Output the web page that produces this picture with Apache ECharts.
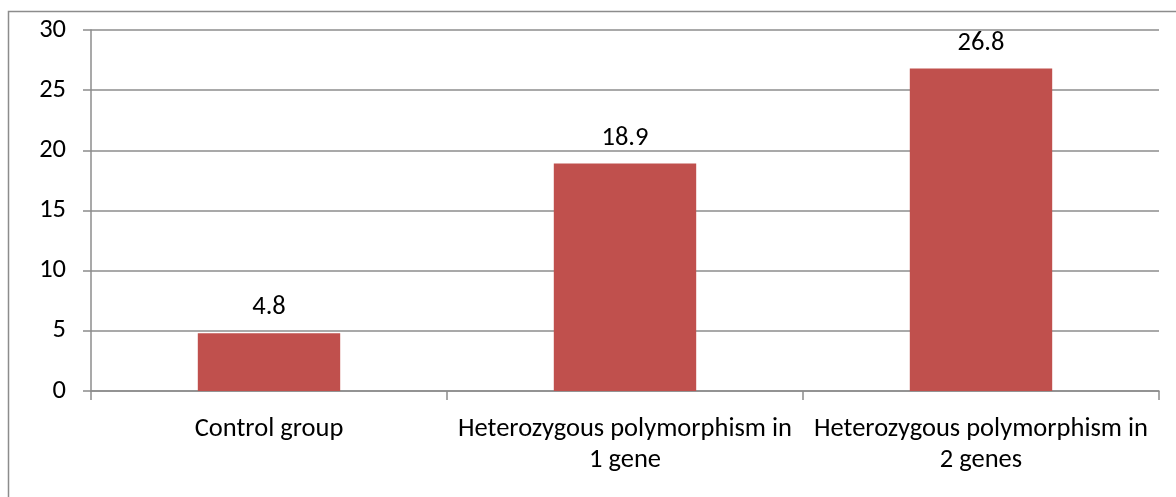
<!DOCTYPE html>
<html>
<head>
<meta charset="utf-8">
<script src="https://cdn.jsdelivr.net/npm/echarts@6/dist/echarts.min.js"></script>
<style>
  html, body { margin: 0; padding: 0; background: #fff; }
  #chart { width: 1176px; height: 497px; }
</style>
</head>
<body>
<div id="chart"></div>
<script>
// 分组名称
const categories = ['Control group', 'Heterozygous polymorphism in\n1 gene', 'Heterozygous polymorphism in\n2 genes']
// 数值
const values = [4.8, 18.9, 26.8]

const gridColor = '#8c8c8c'
const font = 'Carlito, Lato, sans-serif'

var chartDom = document.getElementById('chart')
var myChart = echarts.init(chartDom)

var option = {
  animation: false,
  backgroundColor: '#fff',
  graphic: [{
    type: 'rect',
    shape: { x: 8.5, y: 11.5, width: 1300, height: 600 },
    style: { fill: 'none', stroke: gridColor, lineWidth: 1.5 },
    silent: true
  }],
  grid: { left: 91, right: 17, top: 30, bottom: 106 },
  xAxis: {
    type: 'category',
    data: categories,
    axisLine: { show: true, lineStyle: { color: gridColor, width: 1.5 } },
    axisTick: { show: true, length: 9, lineStyle: { color: gridColor, width: 1.5 } },
    axisLabel: {
      interval: 0,
      color: '#000',
      fontSize: 26.5,
      fontFamily: font,
      lineHeight: 31,
      margin: 23
    }
  },
  yAxis: {
    type: 'value',
    min: 0,
    max: 30,
    interval: 5,
    axisLine: { show: true, lineStyle: { color: gridColor, width: 1.5 } },
    axisTick: { show: true, length: 8, lineStyle: { color: gridColor, width: 1.5 } },
    axisLabel: {
      color: '#000',
      fontSize: 26.5,
      fontFamily: font,
      margin: 25
    },
    splitLine: { show: true, lineStyle: { color: gridColor, width: 1.5 } }
  },
  series: [{
    type: 'bar',
    data: values,
    barWidth: '40%',
    itemStyle: { color: '#C0504D' },
    label: {
      show: true,
      position: 'top',
      distance: 12,
      color: '#000',
      fontSize: 26.5,
      fontFamily: font
    }
  }]
}

option && myChart.setOption(option)
</script>
</body>
</html>
